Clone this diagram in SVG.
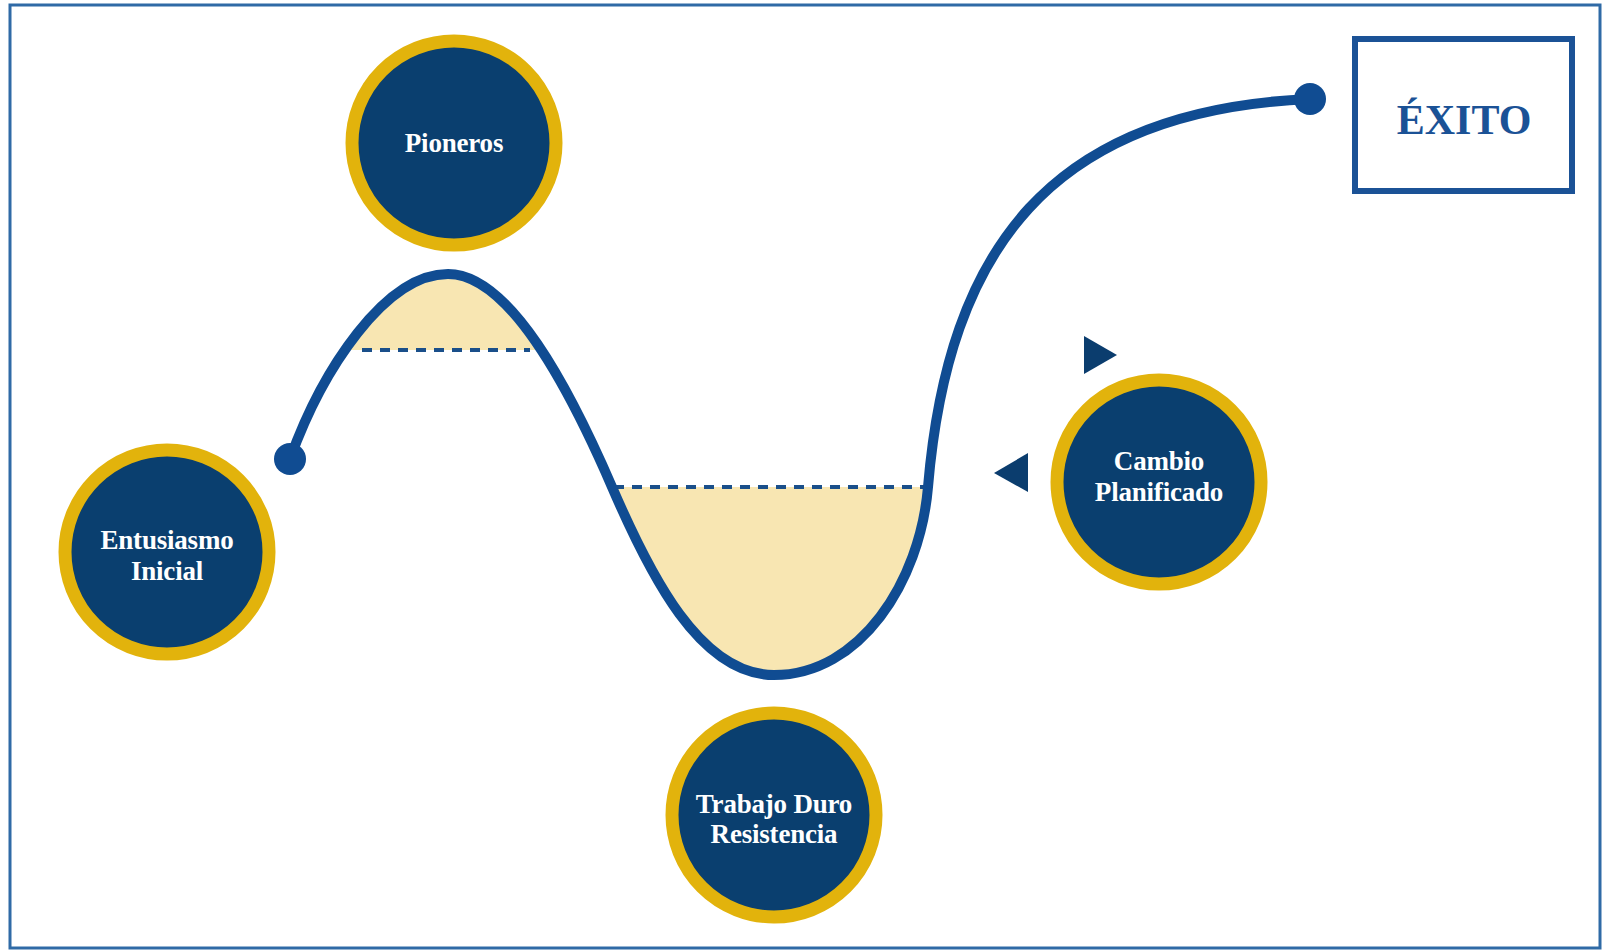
<svg xmlns="http://www.w3.org/2000/svg" width="1604" height="951" viewBox="0 0 1604 951">
<style>
.ring{fill:#0a3f6f;stroke:#e2b30c;stroke-width:13}
.lbl{font-family:"Liberation Serif","DejaVu Serif",serif;font-weight:bold;font-size:27px;fill:#ffffff;text-anchor:middle;letter-spacing:-0.2px}
.curve{fill:none;stroke:#104c92;stroke-width:10;stroke-linecap:round}
.dash{fill:none;stroke:#1a4f8a;stroke-width:4;stroke-dasharray:10 8}
.fillarea{fill:#f8e6b2}
.tri{fill:#0b3d6e}
</style>
<defs>
<clipPath id="peakClip"><rect x="300" y="200" width="300" height="150"/></clipPath>
</defs>
<rect x="10" y="5" width="1590" height="943" fill="#ffffff" stroke="#2f6aa6" stroke-width="3"/>

<g id="fills">
<path class="fillarea" clip-path="url(#peakClip)" d="M290,459 C322,370 385,274 448,274 C510,274 570,390 612,487 Z"/>
<path class="fillarea" d="M612,487 C650,575 700,675 774,675 C860,675 920,582 928,487 Z"/>
<line class="dash" x1="362" y1="350" x2="530" y2="350"/>
<line class="dash" x1="614" y1="487" x2="926" y2="487"/>
</g>

<g id="connectors">
<path class="curve" d="M290,459 C322,370 385,274 448,274 C510,274 570,390 612,487 C650,575 700,675 774,675 C860,675 920,582 928,487 C948,250 1050,110 1310,99"/>
<circle cx="290" cy="459" r="16" fill="#104c92"/>
<circle cx="1310" cy="99" r="16" fill="#104c92"/>
<polygon class="tri" points="1084,336 1084,374 1117,355"/>
<polygon class="tri" points="994,473 1028,453 1028,492"/>
</g>

<g id="node-pioneros">
<circle class="ring" cx="454" cy="143" r="102"/>
<text class="lbl" x="454" y="152">Pioneros</text>
</g>

<g id="node-entusiasmo">
<circle class="ring" cx="167" cy="552" r="102"/>
<text class="lbl" x="167" y="549">Entusiasmo</text>
<text class="lbl" x="167" y="580">Inicial</text>
</g>

<g id="node-trabajo">
<circle class="ring" cx="774" cy="815" r="102"/>
<text class="lbl" x="774" y="813">Trabajo Duro</text>
<text class="lbl" x="774" y="843">Resistencia</text>
</g>

<g id="node-cambio">
<circle class="ring" cx="1159" cy="482" r="102"/>
<text class="lbl" x="1159" y="470">Cambio</text>
<text class="lbl" x="1159" y="501">Planificado</text>
</g>

<g id="node-exito">
<rect x="1355" y="39" width="217" height="152" fill="#ffffff" stroke="#1b5296" stroke-width="6"/>
<text x="1464" y="134" font-family="Liberation Serif, serif" font-weight="bold" font-size="42" fill="#1b5296" text-anchor="middle">ÉXITO</text>
</g>
</svg>
